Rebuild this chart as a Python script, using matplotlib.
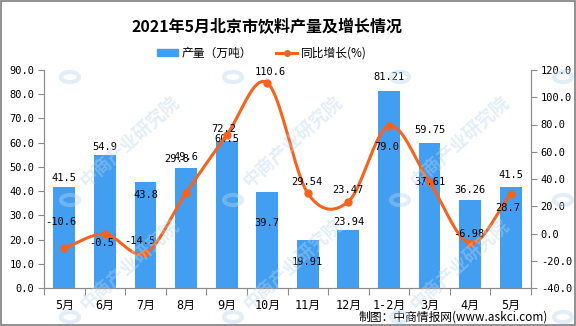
import numpy as np
import matplotlib
matplotlib.use("Agg")
import matplotlib.pyplot as plt
from matplotlib.patches import Rectangle, Circle
from matplotlib.lines import Line2D
from matplotlib.patches import Patch

plt.rcParams['font.family'] = ['DejaVu Sans Mono', 'Noto Sans CJK SC']

months = ['5月', '6月', '7月', '8月', '9月', '10月', '11月', '12月', '1-2月', '3月', '4月', '5月']
output = [41.5, 54.9, 43.8, 49.6, 60.5, 39.7, 19.91, 23.94, 81.21, 59.75, 36.26, 41.5]
output_labels = ['41.5', '54.9', '43.8', '49.6', '60.5', '39.7', '19.91', '23.94', '81.21', '59.75', '36.26', '41.5']
growth = [-10.6, -0.5, -14.5, 29.8, 72.2, 110.6, 29.54, 23.47, 79.0, 37.61, -6.98, 28.7]
growth_labels = ['-10.6', '-0.5', '-14.5', '29.8', '72.2', '110.6', '29.54', '23.47', '79.0', '37.61', '-6.98', '28.7']

# label offsets in pixels (style only)
bar_dy = [9, 8, -13, 11, 2, -31, -22, 8, 14, 13, 10, 12]
line_dx = [-3, -3, -6, -9, -3, 3, -1, 0, -2, 0, -1, -3]
line_dy = [26, -9, 12, 34, 6, 11, 11, 12, -21, 0, 9, -14]

BAR = '#419ef0'
LINE = '#f5631f'
GREY = '#8c8c8c'


def catmull_rom(x, y, n=24):
    x = np.asarray(x, float)
    y = np.asarray(y, float)
    px = np.concatenate([[2 * x[0] - x[1]], x, [2 * x[-1] - x[-2]]])
    py = np.concatenate([[2 * y[0] - y[1]], y, [2 * y[-1] - y[-2]]])
    xs, ys = [], []
    t = np.linspace(0, 1, n)
    for i in range(1, len(px) - 2):
        for p, out in ((px, xs), (py, ys)):
            p0, p1, p2, p3 = p[i - 1], p[i], p[i + 1], p[i + 2]
            out.extend(0.5 * ((2 * p1) + (-p0 + p2) * t
                              + (2 * p0 - 5 * p1 + 4 * p2 - p3) * t ** 2
                              + (-p0 + 3 * p1 - 3 * p2 + p3) * t ** 3))
    return np.array(xs), np.array(ys)


fig = plt.figure(figsize=(5.76, 3.26), dpi=100)
ax = fig.add_axes([44 / 576, 1 - 288 / 326, 487 / 576, 218 / 326])
ax2 = ax.twinx()

x = np.arange(len(months))
bars = ax.bar(x, output, width=0.54, color=BAR, zorder=2)
ax.set_xlim(-0.5, len(months) - 0.5)
ax.set_ylim(0, 90)
ax.set_yticks(np.arange(0, 91, 10))
ax.set_yticklabels([f'{v:.1f}' for v in np.arange(0, 91, 10)], fontsize=7.5)
ax.set_xticks(np.arange(-0.5, len(months), 1))
ax.set_xticklabels([])
ax.set_xticks(x, minor=True)
ax.set_xticklabels(months, minor=True, fontsize=8.5, family=['DejaVu Sans Mono', 'Noto Sans CJK SC'])
ax.tick_params(axis='x', which='major', length=5, color=GREY)
ax.tick_params(axis='x', which='minor', length=0, pad=8)
ax.tick_params(axis='y', length=4, color=GREY, pad=3)

ax2.set_ylim(-40, 120)
ax2.set_yticks(np.arange(-40, 121, 20))
ax2.set_yticklabels([f'{v:.1f}' for v in np.arange(-40, 121, 20)], fontsize=7.5)
ax2.tick_params(axis='y', length=4, color=GREY, pad=3)

for a in (ax, ax2):
    a.spines['top'].set_visible(False)
    for s in ('left', 'right', 'bottom'):
        a.spines[s].set_color(GREY)

sx, sy = catmull_rom(x, growth)
ax2.plot(sx, sy, color=LINE, lw=2.2, zorder=3)
ax2.plot(x, growth, 'o', color=LINE, ms=5, zorder=4)

for i, (b, lab) in enumerate(zip(bars, output_labels)):
    ax.annotate(lab, (b.get_x() + b.get_width() / 2, b.get_height()),
                xytext=(0, bar_dy[i]), textcoords='offset pixels',
                ha='center', va='center', fontsize=7.5, zorder=5)
for i, lab in enumerate(growth_labels):
    ax2.annotate(lab, (x[i], growth[i]), xytext=(line_dx[i], line_dy[i]),
                 textcoords='offset pixels', ha='center', va='center',
                 fontsize=7.5, zorder=6)

fig.text(267 / 576, 1 - 27 / 326, '2021年5月北京市饮料产量及增长情况',
         ha='center', va='center', fontsize=11.5, fontweight='bold',
         family=['Noto Sans CJK SC'])

handles = [Patch(color=BAR), Line2D([], [], color=LINE, lw=2.2, marker='o', ms=4)]
fig.legend(handles, ['产量（万吨）', '同比增长(%)'], loc='center', ncol=2,
           bbox_to_anchor=(262 / 576, 1 - 53 / 326), frameon=False,
           prop={'family': ['Noto Sans CJK SC'], 'size': 8.5},
           handlelength=1.8, handleheight=0.6, columnspacing=2.0, handletextpad=0.3)

fig.text(548 / 576, 1 - 317 / 326, '制图：中商情报网(www.askci.com)',
         ha='right', va='center', fontsize=8.5, family=['Noto Sans CJK SC'])

# watermark
for lx in (70, 233, 400, 563):
    for ly in (-45, 77, 200, 317):
        if ly in (77, 200) and lx < 500:
            fig.text((lx + 60) / 576, 1 - (ly + 65) / 326, '中商产业研究院',
                     ha='center', va='center', rotation=42, fontsize=13,
                     color='#b9d4ec', alpha=0.4, family=['Noto Sans CJK SC'],
                     fontweight='bold', zorder=10)
        fig.patches.append(Circle((lx / 576, 1 - ly / 326), 9 / 576,
                                  transform=fig.transFigure, fc='none',
                                  ec='#b9d4ec', lw=3, alpha=0.4, zorder=10))

fig.patches.append(Rectangle((0.001, 0.002), 0.997, 0.995, transform=fig.transFigure,
                             fill=False, ec='#7f7f7f', lw=1.2))

fig.savefig('out.png', dpi=100)
